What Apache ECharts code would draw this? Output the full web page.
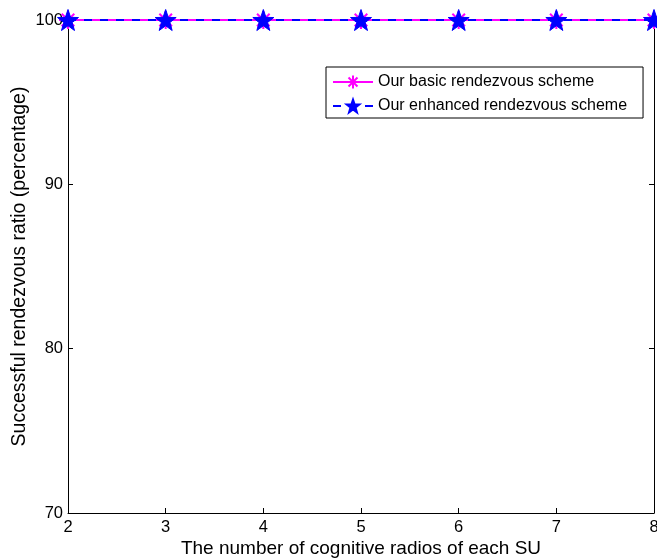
<!DOCTYPE html>
<html>
<head>
<meta charset="utf-8">
<script src="https://cdn.jsdelivr.net/npm/echarts@6/dist/echarts.min.js"></script>
<style>html,body{margin:0;padding:0;background:#fff}#c{width:657px;height:558px}</style>
</head>
<body>
<div id="c"></div>
<script>
const radios = [2, 3, 4, 5, 6, 7, 8];
const basicRatio = [100, 100, 100, 100, 100, 100, 100];
const enhancedRatio = [100, 100, 100, 100, 100, 100, 100];
const seriesNames = ['Our basic rendezvous scheme', 'Our enhanced rendezvous scheme'];
const xTitle = 'The number of cognitive radios of each SU';
const yTitle = 'Successful rendezvous ratio (percentage)';

const FONT = 'Liberation Sans';
const asterisk = 'path://M0,-10L0,10M-10,0L10,0M-7,-7L7,7M-7,7L7,-7';
const star = 'path://M0,-10L2.35,-3.24L9.51,-3.09L3.8,1.24L5.88,8.09L0,4L-5.88,8.09L-3.8,1.24L-9.51,-3.09L-2.35,-3.24Z';

const chart = echarts.init(document.getElementById('c'), null, {renderer: 'canvas'});
const axisLine = {show: true, lineStyle: {color: '#000', width: 1}};
const axisTick = {show: true, inside: true, length: 5, lineStyle: {color: '#000'}};
chart.setOption({
  animation: false,
  backgroundColor: '#fff',
  grid: {left: 68, right: 3, top: 20, bottom: 45, containLabel: false, outerBoundsMode: 'none'},
  legend: {
    orient: 'vertical', left: 326, top: 67,
    padding: [7, 16, 4, 6], itemGap: 8, itemWidth: 40, itemHeight: 16,
    backgroundColor: '#fff', borderColor: '#000', borderWidth: 1,
    textStyle: {fontFamily: FONT, fontSize: 16, color: '#000'},
    data: seriesNames
  },
  xAxis: [{
    type: 'value', min: 2, max: 8, interval: 1, position: 'bottom',
    axisLine, axisTick, splitLine: {show: false},
    axisLabel: {fontFamily: FONT, fontSize: 16.5, color: '#000', margin: 6},
    name: xTitle, nameLocation: 'middle', nameGap: 26, nameMoveOverlap: false,
    nameTextStyle: {fontFamily: FONT, fontSize: 19, color: '#000'}
  }, {
    type: 'value', min: 2, max: 8, interval: 1, position: 'top',
    axisLine, axisTick, axisLabel: {show: false}, splitLine: {show: false}
  }],
  yAxis: [{
    type: 'value', min: 70, max: 100, interval: 10, position: 'left',
    axisLine, axisTick, splitLine: {show: false},
    axisLabel: {fontFamily: FONT, fontSize: 16.5, color: '#000', margin: 5},
    name: yTitle, nameLocation: 'middle', nameGap: 38, nameMoveOverlap: false,
    nameTextStyle: {fontFamily: FONT, fontSize: 19.5, color: '#000'}
  }, {
    type: 'value', min: 70, max: 100, interval: 10, position: 'right',
    axisLine, axisTick, axisLabel: {show: false}, splitLine: {show: false}
  }],
  series: [{
    name: seriesNames[0], type: 'line',
    data: radios.map((x, i) => [x, basicRatio[i]]),
    symbol: asterisk, symbolSize: 18, showSymbol: true,
    lineStyle: {color: '#ff00ff', width: 2, type: 'solid'},
    itemStyle: {color: '#ff00ff', borderColor: '#ff00ff', borderWidth: 2},
    z: 2
  }, {
    name: seriesNames[1], type: 'line',
    data: radios.map((x, i) => [x, enhancedRatio[i]]),
    symbol: star, symbolSize: 21, showSymbol: true,
    lineStyle: {color: '#0000ff', width: 2, type: [8, 8]},
    itemStyle: {color: '#0000ff', borderColor: '#0000ff', borderWidth: 1},
    z: 3
  }]
});
</script>
</body>
</html>
